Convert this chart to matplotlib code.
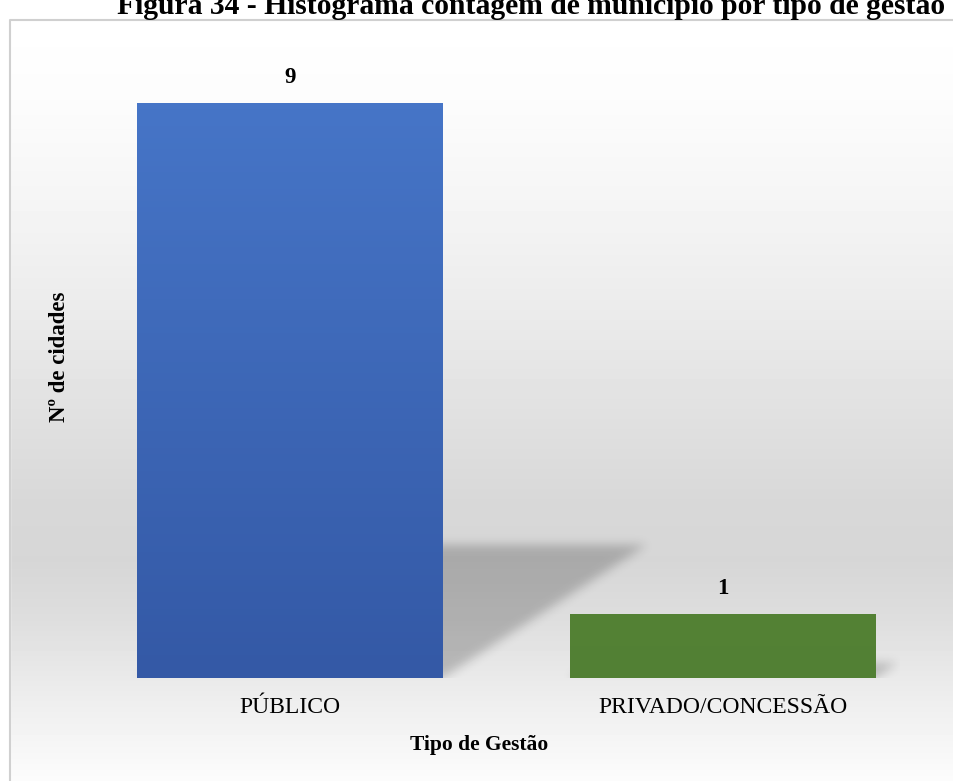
import numpy as np
import matplotlib
matplotlib.use("Agg")
import matplotlib.pyplot as plt
from matplotlib.patches import Rectangle

# Data
categorias = ["PÚBLICO", "PRIVADO/CONCESSÃO"]
cidades = [9, 1]
cores_topo = ["#4675c7", "#548235"]
cores_base = ["#3459a6", "#528034"]

titulo = "Figura 34 - Histograma contagem de município por tipo de gestão"
serif = "Liberation Serif"

W, H = 954, 781
fig = plt.figure(figsize=(W / 100, H / 100), dpi=100)

# background: vertical grey gradient inside the chart frame
topo_caixa = 20
bg = fig.add_axes([0, 0, 1, 1], zorder=0)
bg.set_xlim(0, W)
bg.set_ylim(H, 0)
bg.axis("off")
ys = np.arange(H)
stops_y = [topo_caixa, 100, 200, 300, 400, 500, 560, 620, 700, 781]
stops_g = [255, 252, 245, 236, 226, 216, 214, 222, 238, 252]
grey = np.interp(ys, stops_y, stops_g) / 255.0
grad = np.repeat(grey[:, None], W, axis=1)
bg.imshow(grad, cmap="gray", vmin=0, vmax=1, extent=[0, W, H, 0], aspect="auto")
bg.add_patch(Rectangle((0, 0), W, topo_caixa, color="white"))
bg.add_patch(Rectangle((0, 0), 10, H, color="white"))
bg.plot([10, 10, W], [H, topo_caixa, topo_caixa], color="#d0d0d0", lw=1.5)

# chart title (partly cut by the top of the page)
fig.text(531 / W, 1 - 14 / H, titulo, ha="center", va="baseline",
         family=serif, fontweight="bold", fontsize=21.3, color="black")

# main axes: zero line at y=678 px, bars centred at 290 / 723 px
x0_px, x1_px = 290.0, 723.0
unit = x1_px - x0_px
left_px, right_px = 100.0, 900.0
base_px, top_px = 678.0, 90.0
px_per_val = (base_px - 103.0) / 9.0

ax = fig.add_axes([left_px / W, (H - base_px) / H,
                   (right_px - left_px) / W, (base_px - top_px) / H], zorder=1)
ax.patch.set_alpha(0)
xl = ((left_px - x0_px) / unit, (right_px - x0_px) / unit)
yl = (0, (base_px - top_px) / px_per_val)
ax.set_xlim(*xl)
ax.set_ylim(*yl)
for s in ax.spines.values():
    s.set_visible(False)
ax.tick_params(length=0)
ax.set_yticks([])

x = np.arange(len(categorias))
largura = 306.0 / unit

# perspective shadows on the floor, blurred
nx, ny = int(right_px - left_px), int(base_px - top_px)
gx = np.linspace(xl[0], xl[1], nx)
gy = np.linspace(yl[1], yl[0], ny)
XX, YY = np.meshgrid(gx, gy)
mask = np.zeros_like(XX)
alt_sombra = 0.231
desloc = 0.0524
for xi, v in zip(x, cidades):
    h = alt_sombra * v
    frac = np.clip(YY / h, 0, 1)
    dentro = (YY >= 0) & (YY <= h)
    xa = xi - largura / 2 + frac * desloc * v
    xb = xi + largura / 2 + frac * desloc * v
    mask = np.maximum(mask, (dentro & (XX >= xa) & (XX <= xb)).astype(float))

sig = 5.0
k = np.arange(-15, 16)
kern = np.exp(-k ** 2 / (2 * sig ** 2))
kern /= kern.sum()
mask = np.apply_along_axis(lambda r: np.convolve(r, kern, mode="same"), 1, mask)
mask = np.apply_along_axis(lambda c: np.convolve(c, kern, mode="same"), 0, mask)
sombra = np.zeros((ny, nx, 4))
sombra[..., 3] = mask * 0.21
ax.imshow(sombra, extent=[xl[0], xl[1], yl[0], yl[1]], aspect="auto",
          zorder=1, interpolation="bilinear")

# bars with a soft vertical gradient
for xi, v, c0, c1 in zip(x, cidades, cores_topo, cores_base):
    barra = ax.bar(xi, v, width=largura, color="none", zorder=2)[0]
    cm = matplotlib.colors.LinearSegmentedColormap.from_list("g", [c1, c0])
    img = ax.imshow(np.linspace(0, 1, 100)[:, None], cmap=cm, origin="lower",
                    extent=[xi - largura / 2, xi + largura / 2, 0, v],
                    aspect="auto", zorder=2)
    img.set_clip_path(barra)
    ax.text(xi, v + 20 / px_per_val, str(v), ha="center", va="baseline",
            family=serif, fontweight="bold", fontsize=16.5)

ax.set_xlim(*xl)
ax.set_ylim(*yl)
ax.set_xticks(x)
ax.set_xticklabels(categorias, family=serif, fontsize=17)
ax.tick_params(axis="x", pad=14)

fig.text(479 / W, 1 - 745 / H, "Tipo de Gestão", ha="center", va="center",
         family=serif, fontweight="bold", fontsize=15.5)
fig.text(60 / W, 1 - 357 / H, "Nº de cidades", rotation=90, ha="center",
         va="center", family=serif, fontweight="bold", fontsize=16.5)

fig.savefig("out.png", dpi=100)
